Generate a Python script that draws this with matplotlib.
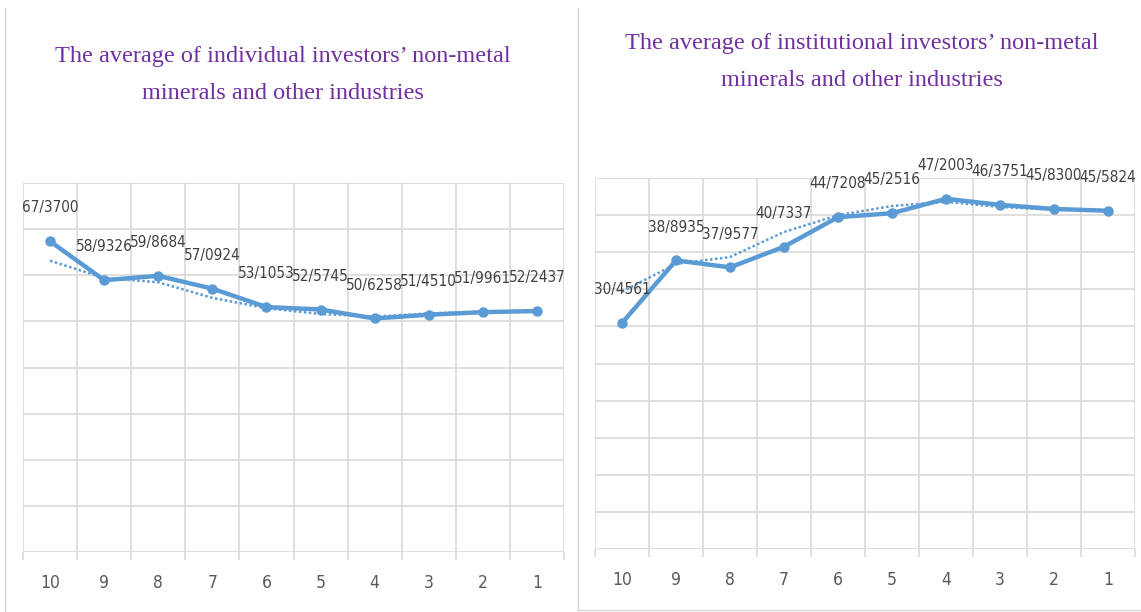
import numpy as np
import matplotlib.pyplot as plt
from matplotlib.lines import Line2D

# categories shown left to right
periods = ['10', '9', '8', '7', '6', '5', '4', '3', '2', '1']

individual = [67.3700, 58.9326, 59.8684, 57.0924, 53.1053,
              52.5745, 50.6258, 51.4510, 51.9961, 52.2437]
individual_labels = ['67/3700', '58/9326', '59/8684', '57/0924', '53/1053',
                     '52/5745', '50/6258', '51/4510', '51/9961', '52/2437']

institutional = [30.4561, 38.8935, 37.9577, 40.7337, 44.7208,
                 45.2516, 47.2003, 46.3751, 45.8300, 45.5824]
institutional_labels = ['30/4561', '38/8935', '37/9577', '40/7337', '44/7208',
                        '45/2516', '47/2003', '46/3751', '45/8300', '45/5824']

titles = ['The average of individual investors\u2019 non-metal\nminerals and other industries',
          'The average of institutional investors\u2019 non-metal\nminerals and other industries']

blue = '#5B9BD5'
grid_c = '#D9D9D9'

fig = plt.figure(figsize=(11.41, 6.12), dpi=100)

# panel borders
fig.add_artist(Line2D([5/1141, 5/1141], [0, 1 - 8/612], color=grid_c, lw=1))
fig.add_artist(Line2D([578/1141, 578/1141], [2/612, 1 - 8/612], color=grid_c, lw=1))
fig.add_artist(Line2D([578/1141, 1], [2/612, 2/612], color=grid_c, lw=1))


def panel(rect, vals, labels, ymax, ystep, title, title_xy):
    ax = fig.add_axes(rect)
    x = np.arange(len(vals))
    ax.set_xlim(-0.5, len(vals) - 0.5)
    ax.set_ylim(0, ymax)
    ax.set_yticks(np.arange(0, ymax + ystep, ystep))
    ax.set_xticks(np.arange(-0.5, len(vals)), minor=False)
    ax.set_xticklabels([])
    ax.set_xticks(x, minor=True)
    ax.set_xticklabels(periods, minor=True, fontsize=12.5, color='#595959',
                       family='DejaVu Sans', fontstretch='condensed')
    ax.tick_params(axis='x', which='major', length=6, color=grid_c, width=1.2)
    ax.tick_params(axis='x', which='minor', length=0, pad=16)
    ax.tick_params(axis='y', length=0, labelleft=False)
    ax.grid(True, which='major', color=grid_c, lw=1.2)
    ax.set_axisbelow(True)
    for s in ax.spines.values():
        s.set_visible(False)

    v = np.array(vals)
    ma = (v[:-1] + v[1:]) / 2  # 2-period moving average trendline
    ax.plot(x[:-1], ma, color=blue, lw=1.8, ls=(0, (1, 1)), zorder=2)
    ax.plot(x, v, color=blue, lw=3.2, marker='o', ms=6.5, zorder=3)
    for xi, yi, lab in zip(x, vals, labels):
        ax.annotate(lab, (xi, yi), xytext=(0, 24), textcoords='offset points',
                    ha='center', va='center', fontsize=11, color='#404040',
                    family='DejaVu Sans', fontstretch='condensed', zorder=4)
    fig.text(title_xy[0], title_xy[1], title, ha='center', va='center',
             family='Liberation Serif', fontsize=17.5, color='#7030A0',
             linespacing=2.05)
    return ax


panel([23/1141, 60/612, 541/1141, 369/612], individual, individual_labels,
      80, 10, titles[0], (283/1141, 1 - 75/612))
panel([595/1141, 63/612, 540/1141, 371/612], institutional, institutional_labels,
      50, 5, titles[1], (862/1141, 1 - 62/612))

fig.savefig('out.png', dpi=100)
